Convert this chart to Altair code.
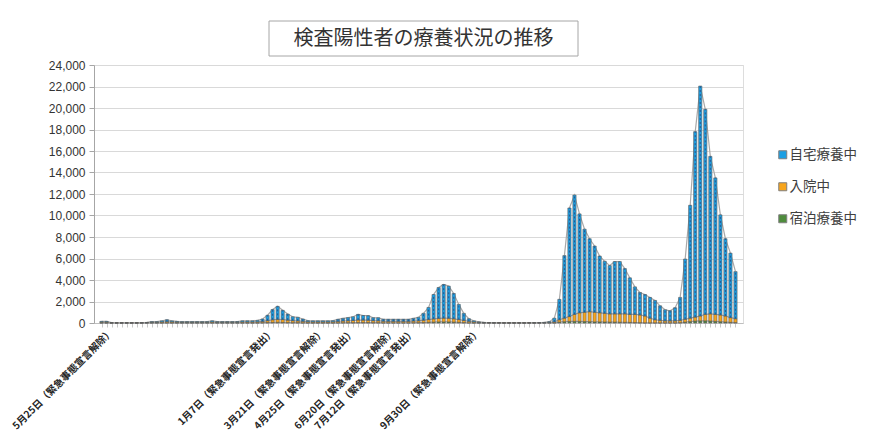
import altair as alt
import pandas as pd

TITLE = "検査陽性者の療養状況の推移"
SERIES = ["自宅療養中", "入院中", "宿泊療養中"]
COLORS = ["#1C9FE3", "#F7A51D", "#4E8C3C"]

# 自宅療養中
home = [70, 70, 10, 5, 5, 5, 5, 5, 10, 15,
        50, 50, 105, 180, 95, 70, 50, 50, 50, 50,
        50, 50, 105, 50, 50, 50, 50, 60, 105, 105,
        105, 140, 220, 500, 950, 1210, 860, 560, 360, 330,
        210, 105, 100, 100, 100, 100, 110, 190, 245, 290,
        350, 520, 430, 420, 270, 280, 180, 180, 180, 180,
        180, 180, 245, 320, 640, 1130, 2270, 2870, 3130, 2990,
        2360, 1410, 660, 240, 100, 35, 20, 10, 10, 5,
        5, 5, 5, 5, 5, 5, 10, 15, 25, 60,
        350, 1900, 5820, 10100, 11100, 9200, 7730, 6790, 6160, 5280,
        4840, 4490, 4860, 4860, 4210, 3400, 2560, 2090, 2000, 1930,
        1800, 1350, 1030, 940, 1220, 2130, 5600, 10500, 17250, 21390,
        19080, 14650, 12700, 9310, 7190, 6000, 4380]

# 入院中
hosp = [70, 70, 20, 15, 15, 15, 15, 15, 20, 30,
        60, 60, 80, 100, 90, 70, 60, 60, 60, 60,
        60, 60, 80, 60, 60, 60, 60, 60, 80, 80,
        80, 90, 120, 180, 250, 280, 270, 230, 190, 170,
        140, 100, 90, 90, 90, 90, 100, 130, 160, 180,
        200, 240, 230, 220, 190, 180, 150, 140, 140, 140,
        140, 140, 160, 180, 220, 260, 300, 330, 350, 340,
        310, 260, 200, 140, 90, 60, 40, 30, 20, 20,
        15, 15, 15, 15, 15, 20, 20, 25, 30, 50,
        80, 220, 330, 450, 650, 800, 870, 930, 900, 850,
        810, 770, 770, 780, 790, 750, 760, 720, 630, 430,
        280, 235, 185, 185, 185, 220, 270, 320, 370, 450,
        600, 670, 650, 630, 560, 440, 360]

# 宿泊療養中
hotel = [10, 10, 0, 0, 0, 0, 0, 0, 0, 5,
         10, 10, 15, 20, 15, 10, 10, 10, 10, 10,
         10, 10, 15, 10, 10, 10, 10, 10, 15, 15,
         15, 20, 30, 40, 50, 60, 50, 40, 30, 30,
         20, 15, 10, 10, 10, 10, 10, 20, 25, 30,
         30, 40, 40, 40, 30, 30, 20, 20, 20, 20,
         20, 20, 25, 30, 40, 60, 80, 100, 100, 100,
         80, 60, 40, 20, 10, 5, 0, 0, 0, 0,
         0, 0, 0, 0, 0, 0, 0, 0, 5, 10,
         20, 80, 120, 150, 150, 150, 130, 120, 100, 100,
         90, 80, 80, 70, 60, 50, 40, 30, 20, 20,
         20, 15, 15, 15, 15, 30, 80, 130, 180, 200,
         200, 180, 150, 120, 90, 60, 40]

label_idx = [2, 34, 44, 50, 58, 62, 75]
label_text = ["5月25日（緊急事態宣言解除）", "1月7日（緊急事態宣言発出）",
              "3月21日（緊急事態宣言解除）", "4月25日（緊急事態宣言発出）",
              "6月20日（緊急事態宣言解除）", "7月12日（緊急事態宣言発出）",
              "9月30日（緊急事態宣言解除）"]

y_ticks = list(range(0, 24001, 2000))

n = len(home)
idx = list(range(n))
c1 = list(hotel)
c2 = [a + b for a, b in zip(hotel, hosp)]
c3 = [a + b for a, b in zip(c2, home)]

bars = pd.DataFrame({
    "i": idx * 3,
    "series": [SERIES[2]] * n + [SERIES[1]] * n + [SERIES[0]] * n,
    "y0": [0] * n + c1 + c2,
    "y1": c1 + c2 + c3,
})
lines = pd.DataFrame({
    "i": idx * 3,
    "level": ["a"] * n + ["b"] * n + ["c"] * n,
    "v": c1 + c2 + c3,
})
rules = pd.DataFrame({"i": idx, "y0": c2, "y1": c3, "h": home})

expr = "''"
for k, t in reversed(list(zip(label_idx, label_text))):
    expr = f"datum.value == {k} ? '{t}' : ({expr})"

JP = "Noto Sans CJK JP"

x_enc = alt.X("i:Q", title=None,
              scale=alt.Scale(domain=[-0.5, n - 0.5], nice=False, zero=False),
              axis=alt.Axis(values=idx, labelExpr=expr, labelAngle=-45,
                            labelAlign="right", labelBaseline="middle",
                            labelFont=JP, labelFontSize=10, labelFontWeight="bold",
                            labelColor="#262626", labelOverlap=False, labelBound=False,
                            labelPadding=3, tickSize=4, tickColor="#c8c8c8",
                            domainColor="#bfbfbf", grid=False))
y_scale = alt.Scale(domain=[0, 24000], nice=False)
y_axis = alt.Axis(values=y_ticks, labelExpr="format(datum.value, ',')",
                  labelFont="Liberation Sans",
                  labelFontSize=12, labelColor="#333333", labelPadding=4,
                  tickSize=5, tickColor="#a6a6a6", domainColor="#a6a6a6",
                  gridColor="#d9d9d9", gridWidth=1)

series_lines = alt.Chart(lines).mark_line(color="#a9a9a9", strokeWidth=1.2).encode(
    x=x_enc,
    y=alt.Y("v:Q", scale=y_scale, axis=y_axis, title=None),
    detail="level:N",
)

bar_layer = alt.Chart(bars).mark_bar(size=3.2, stroke="#5a5a5a", strokeWidth=0.6).encode(
    x=x_enc,
    y=alt.Y("y0:Q", scale=y_scale, axis=y_axis, title=None),
    y2="y1:Q",
    color=alt.Color("series:N", title=None,
                    scale=alt.Scale(domain=SERIES, range=COLORS),
                    legend=alt.Legend(orient="none", legendX=682, legendY=83,
                                      symbolType="square", symbolSize=64,
                                      symbolStrokeColor="#7f7f7f", symbolStrokeWidth=1,
                                      labelFont=JP, labelFontSize=13.5,
                                      labelColor="#404040", labelOffset=0,
                                      rowPadding=17, padding=0)),
)

pattern = alt.Chart(rules).transform_filter("datum.h > 150").mark_rule(
    color="#2B4F86", strokeWidth=0.9, strokeDash=[2, 2]
).encode(
    x=x_enc,
    y=alt.Y("y0:Q", scale=y_scale, axis=y_axis, title=None),
    y2="y1:Q",
)

box = alt.Chart(alt.Data(values=[{"k": 1}])).mark_rect(
    fill="white", stroke="#a6a6a6", strokeWidth=1
).encode(x=alt.value(175), x2=alt.value(484), y=alt.value(-44), y2=alt.value(-9))

title_text = alt.Chart(alt.Data(values=[{"t": TITLE}])).mark_text(
    font=JP, fontSize=20, color="#333333", baseline="middle", align="center"
).encode(x=alt.value(329.5), y=alt.value(-26), text="t:N")

chart = alt.layer(series_lines, bar_layer, pattern, box, title_text).properties(
    width=649, height=258,
    autosize=alt.AutoSizeParams(type="none"),
    padding={"left": 86, "top": 57, "right": 119, "bottom": 117},
).configure_view(stroke=None).configure(background="white")

chart.save("out.html", embed_options={"renderer": "svg", "actions": False})
